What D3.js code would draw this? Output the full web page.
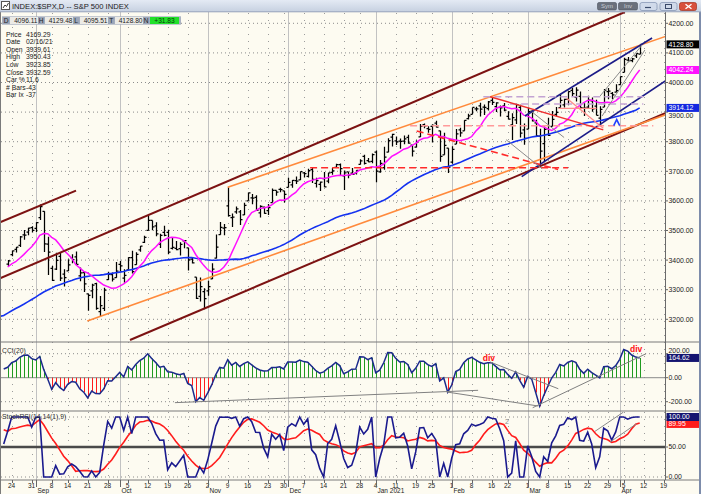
<!DOCTYPE html>
<html><head><meta charset="utf-8">
<script src="https://cdn.jsdelivr.net/npm/d3@7"></script>
<style>
html,body{margin:0;padding:0;background:#fdfbf1;}
svg{display:block;font-family:"Liberation Sans",Arial,sans-serif;}
</style></head>
<body><svg id="c" width="701" height="494"></svg>
<script>
// ---------------- DATA ----------------
// warm-up closes Jun 1 - Aug 19 2020 (for moving averages / RSI)
const priorClose = [3055.73,3080.82,3122.87,3112.35,3193.93,3232.39,3207.18,3190.14,3002.10,3041.31,3066.59,3124.74,3113.49,3115.34,3097.74,3117.86,3131.29,3050.33,3083.76,3009.05,3053.24,3100.29,
3115.86,3130.01,3179.72,3145.32,3169.94,3152.05,3185.04,3155.22,3197.52,3226.56,3215.57,3224.73,3251.84,3257.30,3276.02,3235.66,3215.63,3239.41,3218.44,3258.44,3246.22,3271.12,
3294.61,3306.51,3327.77,3349.16,3351.28,3360.47,3333.69,3380.35,3373.43,3372.85,3381.99,3389.78,3374.85];
// warm-up highs / lows Jul 24 - Aug 19 2020 (for CCI)
const priorHigh = [3227.26,3241.43,3243.72,3264.74,3250.92,3272.17,3302.73,3306.84,3330.77,3351.03,3352.54,3363.29,3381.01,3387.89,3387.24,3378.51,3387.59,3395.06,3399.54];
const priorLow  = [3200.05,3214.25,3216.17,3227.22,3204.13,3220.26,3284.53,3286.37,3317.37,3318.14,3328.72,3335.44,3326.44,3355.46,3363.35,3361.64,3379.22,3370.15,3369.66];

// daily OHLC Aug 20 2020 - Apr 9 2021
const openP = [3360.48,3386.01,3418.09,3435.95,3449.97,3485.14,3494.69,3509.73,
3507.44,3543.76,3564.74,3453.60,3371.88,3369.82,3412.56,3352.70,3363.56,3407.73,3411.23,3346.86,3357.38,3285.57,3295.75,3320.11,3226.14,3236.66,3333.90,3350.92,3341.21,
3385.87,3338.94,3367.27,3408.74,3384.56,3434.28,3459.67,3500.02,3534.01,3515.47,3453.72,3493.50,3493.66,3439.38,3439.91,3438.50,3464.90,3441.42,3403.15,3342.48,3277.17,3293.59,
3296.20,3336.25,3406.46,3485.74,3508.34,3583.04,3543.26,3563.22,3562.67,3552.57,3600.16,3610.31,3612.09,3559.41,3579.31,3566.82,3594.52,3635.50,3638.55,3634.18,
3645.87,3653.78,3668.28,3670.94,3694.73,3683.05,3705.98,3659.13,3656.08,3675.27,3666.41,3696.25,3713.65,3722.39,3684.28,3698.08,3693.42,3694.03,3723.03,3750.01,3736.19,3733.27,
3764.61,3698.02,3712.20,3764.71,3815.05,3803.14,3801.62,3802.23,3814.98,3788.73,3781.88,3816.22,3857.46,3844.24,3851.68,3862.96,3836.83,3755.75,3778.05,
3731.17,3791.84,3840.27,3836.66,3878.30,3892.59,3910.49,3920.78,3916.40,3911.65,3939.61,3918.50,3915.86,3921.16,3885.55,3857.07,3873.71,3915.80,3839.66,
3842.51,3903.64,3863.99,3818.53,3793.58,3844.39,3851.93,3891.99,3915.54,3924.52,3942.96,3973.59,3949.57,3953.50,3913.14,3916.48,3937.60,3919.93,3879.34,3917.12,3969.31,3963.34,3967.25,
3992.78,4034.44,4075.57,4074.29,4089.95,4096.11];
const highP = [3390.80,3399.96,3432.09,3444.21,3481.07,3501.38,3509.23,3514.77,
3528.03,3588.11,3564.85,3479.15,3379.97,3424.77,3425.55,3368.95,3402.93,3419.48,3428.92,3375.17,3362.27,3285.57,3320.31,3323.35,3278.70,3306.88,3360.74,3357.92,3393.56,
3397.18,3369.10,3409.57,3431.56,3426.26,3447.28,3482.34,3549.85,3534.01,3527.94,3489.08,3515.76,3502.42,3476.93,3464.86,3460.53,3466.46,3441.42,3409.51,3342.48,3341.05,3304.93,
3330.14,3389.49,3486.25,3529.05,3521.58,3645.99,3557.22,3581.16,3569.02,3593.66,3628.51,3623.11,3619.09,3585.22,3581.23,3589.81,3642.31,3635.50,3644.31,3634.18,
3678.45,3670.96,3682.73,3699.20,3697.41,3708.45,3712.39,3678.49,3665.91,3697.61,3695.29,3711.27,3725.12,3726.70,3702.90,3698.26,3711.24,3703.82,3740.51,3756.12,3744.63,3760.20,
3769.99,3737.83,3783.04,3811.55,3826.69,3817.86,3810.78,3820.96,3823.60,3788.73,3804.53,3859.75,3861.45,3852.31,3859.23,3870.90,3836.83,3830.50,3778.05,
3784.32,3843.09,3847.51,3872.42,3894.56,3915.77,3918.35,3931.50,3925.99,3937.23,3950.43,3933.61,3921.98,3930.41,3902.92,3895.98,3928.65,3925.02,3861.08,
3914.50,3906.41,3874.47,3843.67,3851.69,3881.06,3903.76,3917.35,3960.27,3944.99,3970.08,3981.04,3983.87,3969.62,3930.12,3955.31,3949.13,3942.08,3919.54,3978.19,3981.83,3968.01,3994.41,
4020.63,4083.42,4086.23,4083.13,4098.19,4129.48];
const lowP = [3354.69,3379.31,3413.13,3425.84,3444.15,3468.35,3484.32,3493.25,
3494.60,3535.23,3427.41,3349.63,3329.27,3366.84,3329.25,3310.47,3363.56,3389.25,3384.45,3328.82,3292.40,3229.10,3270.95,3232.57,3209.45,3228.44,3332.91,3327.54,3340.47,
3361.39,3323.69,3367.27,3354.54,3384.56,3428.15,3458.07,3499.61,3500.86,3480.55,3440.89,3480.45,3419.93,3435.65,3433.06,3415.34,3440.45,3364.86,3388.71,3268.89,3259.82,3233.94,
3279.74,3336.25,3405.17,3485.74,3484.34,3547.48,3511.91,3557.00,3518.58,3552.57,3600.16,3588.68,3567.33,3543.84,3556.85,3552.77,3594.52,3617.76,3629.33,3594.39,
3645.87,3644.84,3657.17,3670.94,3678.88,3678.83,3660.54,3645.18,3633.40,3645.84,3659.62,3688.57,3710.87,3685.84,3636.48,3676.16,3689.28,3689.32,3723.03,3723.31,3730.21,3726.88,
3662.71,3695.07,3705.34,3764.71,3783.60,3789.02,3776.51,3791.50,3792.86,3749.62,3780.37,3816.22,3845.05,3830.41,3797.16,3847.78,3732.48,3755.75,3694.12,
3725.62,3791.84,3816.68,3836.66,3874.93,3892.59,3902.64,3884.94,3890.39,3905.78,3923.85,3900.43,3885.03,3903.07,3874.71,3805.59,3859.60,3814.04,3789.54,
3842.51,3868.57,3818.86,3723.34,3730.19,3819.25,3851.93,3885.73,3915.54,3915.21,3923.54,3953.44,3935.74,3910.86,3886.75,3914.16,3901.57,3889.07,3853.50,3917.12,3943.25,3944.35,3966.98,
3992.78,4034.44,4068.14,4068.31,4082.54,4095.51];
const closeP = [3385.51,3397.16,3431.28,3443.62,3478.73,3484.55,3508.01,3500.31,
3526.65,3580.84,3455.06,3426.96,3331.84,3398.96,3339.19,3340.97,3383.54,3401.20,3385.49,3357.01,3319.47,3281.06,3315.57,3236.92,3246.59,3298.46,3351.60,3335.47,3363.00,
3380.80,3348.42,3408.60,3360.97,3419.44,3446.83,3477.14,3534.22,3511.93,3488.67,3483.34,3483.81,3426.92,3443.12,3435.56,3453.49,3465.39,3400.97,3390.68,3271.03,3310.11,3269.96,
3310.24,3369.16,3443.44,3510.45,3509.44,3550.50,3545.53,3572.66,3537.01,3585.15,3626.91,3609.53,3567.79,3581.87,3557.54,3577.59,3635.41,3629.65,3638.35,3621.63,
3662.45,3669.01,3666.72,3699.12,3691.96,3702.25,3672.82,3668.10,3663.46,3647.49,3694.62,3701.17,3722.48,3709.41,3694.92,3687.26,3690.01,3703.06,3735.36,3727.04,3732.04,3756.07,
3700.65,3726.86,3748.14,3803.79,3824.68,3799.61,3801.19,3809.84,3795.54,3768.25,3798.91,3851.85,3853.07,3841.47,3855.36,3849.62,3750.77,3787.38,3714.24,
3773.86,3826.31,3830.17,3871.74,3886.83,3915.59,3911.23,3909.88,3916.38,3934.83,3932.59,3931.33,3913.97,3906.71,3876.50,3881.37,3925.43,3829.34,3811.15,
3901.82,3870.29,3819.72,3768.47,3841.94,3821.35,3875.44,3898.81,3939.34,3943.34,3968.94,3962.71,3974.12,3915.46,3913.10,3940.59,3910.52,3889.14,3909.52,3974.54,3971.09,3958.55,3972.89,
4019.87,4077.91,4073.94,4079.95,4097.17,4128.80];

const holidays = ["2020-09-07","2020-11-26","2020-12-25","2021-01-01","2021-01-18","2021-02-15","2021-04-02"];
const weekTickDates = ["2020-08-24","2020-08-31","2020-09-08","2020-09-14","2020-09-21","2020-09-28","2020-10-05","2020-10-12","2020-10-19","2020-10-26","2020-11-02","2020-11-09","2020-11-16","2020-11-23","2020-11-30","2020-12-07","2020-12-14","2020-12-21","2020-12-28","2021-01-04","2021-01-11","2021-01-19","2021-01-25","2021-02-01","2021-02-08","2021-02-16","2021-02-22","2021-03-01","2021-03-08","2021-03-15","2021-03-22","2021-03-29","2021-04-05","2021-04-12","2021-04-19"];
const weekTickLabels = ["24","31","8","14","21","28","5","12","19","26","2","9","16","23","30","7","14","21","28","4","11","19","25","1","8","16","22","1","8","15","22","29","5","12","19"];
const monthTickDates = ["2020-09-01","2020-10-01","2020-11-02","2020-12-01","2021-01-04","2021-02-01","2021-03-01","2021-04-01"];
const monthTickLabels = ["Sep","Oct","Nov","Dec","Jan 2021","Feb","Mar","Apr"];
const priceTicks = [3200,3300,3400,3500,3600,3700,3800,3900,4000,4100,4200];
const cciTicks = [200,0,-200];
const stochTicks = [100,50,0];

const titleText = "INDEX:$SPX,D -- S&P 500 INDEX";
const quoteLetters = ["D","H","L","T","N"];
const quoteValues = ["4096.11","4129.48","4095.51","4128.80","+31.83"];
const infoLabels = ["Price","Date","Open","High","Low","Close","Car %","# Bars","Bar Ix"];
const infoValues = ["4169.29","02/16/21","3939.61","3950.43","3923.85","3932.59","11.6","-43","-37"];
const lastLabels = {close:["4128.80",4128.80], ma9:["4042.24",4042.24], ma50:["3914.12",3914.12], cci:["164.62",164.62], k:["100.00",100], d:["89.95",89.95]};

// annotation trend lines in data coordinates [barIndex1, value1, barIndex2, value2]
const maroonLines = [[-0.925,3527.7,18.075,3634.5],[-0.925,3338.5,155.3,4238.2],[31.575,3130.1,165.75,3898.6]];
const orangeLines = [[56,3646,165.75,4157.1],[20.9,3194.3,165.75,3892.6]];
const navyLines = [[130.3,3886.8,162.1,4150.3],[129.5,3681.8,165.75,4008.4]];
const redDashLines = [[76.6,3712,141.1,3712],[103.25,3836.1,138.6,3706.1]];
const pinkDashLines = [[101.6,3854,162.4,3854]];
const lavDashLines = [[119.9,3952,159.9,3952],[126.6,3927.4,159.9,3927.4]];
const redSolidLines = [[121.6,3952,149.9,3840]];
const salmonLines = [[140.75,3946.6,149.9,3845.3],[138.7,3912.8,148.2,3912.8]];
const greyPriceLines = [[125.6,3806.7,134.6,3708.7],[132.1,3900.3,140.1,3814.2],[149.1,3954.4,159.6,4126.7],[149.6,3886.8,160.3,4109.8]];
const cciLines = [[42.8,-208,118.6,-105],[110.75,-119,133.65,-236],[121.6,131,138.65,-92],[132.25,-250,160.6,200]];
const stochLines = [[147.8,76,154.9,108],[151.6,58.3,158.2,88.8]];
const divMarks = [[121.3,168],[158.1,239]];
const caretMark = [153.25,3864.5];
const stochNote = [125.3,93,"2"];

// ---------------- DERIVED ----------------
function tradingDays(start,end){
  const out=[]; const d=new Date(start+"T00:00:00Z"); const e=new Date(end+"T00:00:00Z");
  while(d<=e){const wd=d.getUTCDay(); const s=d.toISOString().slice(0,10);
    if(wd!==0&&wd!==6&&!holidays.includes(s)) out.push(s); d.setUTCDate(d.getUTCDate()+1);}
  return out;
}
const dates = tradingDays("2020-08-20","2021-04-19");
const N = closeP.length;
const allClose = priorClose.concat(closeP); const off = priorClose.length;
function sma(arr,end,n){let s=0;for(let k=end-n+1;k<=end;k++)s+=arr[k];return s/n;}
const ma9 = d3.range(1,N).map(i=>({i,v:sma(allClose,off+i,9)}));
const ma50 = d3.range(-1,N).map(i=>({i,v:sma(allClose,off+i,50)}));
// RSI(14) Wilder
const rsi = new Array(allClose.length).fill(null);
let ag=0,al=0;
for(let k=1;k<=14;k++){const ch=allClose[k]-allClose[k-1]; if(ch>0)ag+=ch; else al-=ch;}
ag/=14; al/=14; rsi[14]=100-100/(1+ag/al);
for(let k=15;k<allClose.length;k++){const ch=allClose[k]-allClose[k-1];
  ag=(ag*13+Math.max(ch,0))/14; al=(al*13+Math.max(-ch,0))/14; rsi[k]=al===0?100:100-100/(1+ag/al);}
const stK = new Array(allClose.length).fill(null);
for(let k=27;k<allClose.length;k++){const w=rsi.slice(k-13,k+1);const mn=d3.min(w),mx=d3.max(w);stK[k]=mx===mn?50:(rsi[k]-mn)/(mx-mn)*100;}
const kLine = d3.range(0,N).map(i=>({i,v:stK[off+i]}));
const dLine = d3.range(0,N).map(i=>({i,v:sma(stK,off+i,9)}));
// CCI(20)
const tpAll = priorHigh.map((h,j)=>(h+priorLow[j]+priorClose[off-19+j])/3).concat(highP.map((h,i)=>(h+lowP[i]+closeP[i])/3));
const toff = priorHigh.length;
const cci = d3.range(0,N).map(i=>{const w=tpAll.slice(toff+i-19,toff+i+1);const m=d3.mean(w);const md=d3.mean(w,t=>Math.abs(t-m));return {i,v:(tpAll[toff+i]-m)/(0.015*md)};});

// ---------------- SCALES ----------------
const X = d3.scaleLinear().domain([0,165]).range([3.7,663.7]);
const XP = i => Math.round(X(i)) + 0.5;   // pixel-snapped bar position
const Y = d3.scaleLinear().domain([3200,4200]).range([319.3,23.3]);
const YC = d3.scaleLinear().domain([-200,200]).range([401.7,353.7]);
const YS = d3.scaleLinear().domain([0,100]).range([477,417]);
const idx = d => dates.indexOf(d);
const AX = 665.5;

const svg = d3.select("#c");
const defs = svg.append("defs");
function clip(id,x,y,w,h){defs.append("clipPath").attr("id",id).append("rect").attr("x",x).attr("y",y).attr("width",w).attr("height",h);}
clip("cm",1,12,AX-1,330); clip("cc",1,342.5,AX-1,68.5); clip("cs",1,411.5,AX-1,68.5);
const gr = defs.append("linearGradient").attr("id","tb").attr("x1",0).attr("y1",0).attr("x2",0).attr("y2",1);
gr.append("stop").attr("offset","0%").attr("stop-color","#e4eaf4");
gr.append("stop").attr("offset","100%").attr("stop-color","#c6d0e0");

svg.append("rect").attr("width",701).attr("height",494).attr("fill","#fdfbf1");

// ---------------- GRID ----------------
const grid = svg.append("g");
const monthIdx = monthTickDates.map(idx);
weekTickDates.forEach(d=>{ if(monthTickDates.includes(d)) return; const x=XP(idx(d));
  grid.append("line").attr("x1",x).attr("x2",x).attr("y1",13).attr("y2",480).attr("stroke","#9c9c9c").attr("stroke-width",1).attr("stroke-dasharray","1,6");});
monthIdx.forEach(i=>{const x=XP(i); grid.append("line").attr("x1",x).attr("x2",x).attr("y1",12).attr("y2",480).attr("stroke","#c2c2c2").attr("stroke-width",1);});
priceTicks.forEach(p=>grid.append("line").attr("x1",1).attr("x2",AX).attr("y1",Y(p)).attr("y2",Y(p)).attr("stroke","#8c8c8c").attr("stroke-dasharray","1,3"));
[200,-200].forEach(v=>grid.append("line").attr("x1",1).attr("x2",AX).attr("y1",YC(v)).attr("y2",YC(v)).attr("stroke","#8c8c8c").attr("stroke-dasharray","1,3"));
grid.append("line").attr("x1",1).attr("x2",AX).attr("y1",YC(0)).attr("y2",YC(0)).attr("stroke","#8a8a8a").attr("stroke-width",1);
[100,0].forEach(v=>grid.append("line").attr("x1",1).attr("x2",AX).attr("y1",YS(v)).attr("y2",YS(v)).attr("stroke","#8c8c8c").attr("stroke-dasharray","1,3"));
grid.append("line").attr("x1",1).attr("x2",AX).attr("y1",YS(50)).attr("y2",YS(50)).attr("stroke","#4a4a4a").attr("stroke-width",2.4);

// ---------------- MAIN PANEL ----------------
const gm = svg.append("g").attr("clip-path","url(#cm)");
const seg = (g,arr,xs,ys,col,w,dash)=>arr.forEach(a=>g.append("line").attr("x1",xs(a[0])).attr("y1",ys(a[1])).attr("x2",xs(a[2])).attr("y2",ys(a[3])).attr("stroke",col).attr("stroke-width",w).attr("stroke-dasharray",dash||null));

const barsG = gm.append("g").attr("stroke","#000").attr("stroke-width",1.25).attr("fill","none");
d3.range(1,N).forEach(i=>{const x=XP(i);
  barsG.append("path").attr("d",`M${x},${Y(highP[i])}V${Y(lowP[i])}M${x-2},${Y(openP[i])}H${x}M${x},${Y(closeP[i])}H${x+2}`);});

const line = (ys)=>d3.line().x(d=>X(d.i)).y(d=>ys(d.v));
gm.append("path").datum(ma50).attr("d",line(Y)).attr("fill","none").attr("stroke","#1432f0").attr("stroke-width",1.6);
gm.append("path").datum(ma9).attr("d",line(Y)).attr("fill","none").attr("stroke","#ff10ff").attr("stroke-width",1.5);

seg(gm,maroonLines,X,Y,"#7c1212",2);
seg(gm,orangeLines,X,Y,"#ff8a3c",1.6);
seg(gm,navyLines,X,Y,"#1c1c88",1.6);
seg(gm,pinkDashLines,X,Y,"#ff9a9a",1.6,"7,4");
seg(gm,lavDashLines,X,Y,"#c3a3d3",1.6,"7,4");
seg(gm,redDashLines,X,Y,"#ff2a2a",1.6,"7,4");
seg(gm,redSolidLines,X,Y,"#f03030",1.5);
seg(gm,salmonLines,X,Y,"#ff8a8a",1.3);
seg(gm,greyPriceLines,X,Y,"#8a8a8a",1);
gm.append("path").attr("d",`M${X(caretMark[0])-3},${Y(caretMark[1])+3}L${X(caretMark[0])},${Y(caretMark[1])-3}L${X(caretMark[0])+3},${Y(caretMark[1])+3}`)
  .attr("fill","none").attr("stroke","#2040ff").attr("stroke-width",1.6);

// info text
const info = svg.append("g").attr("font-size",6.8).attr("fill","#1a1a1a");
infoLabels.forEach((t,k)=>{const y=34.3+7.6*k;
  info.append("text").attr("x",6).attr("y",y).attr("dy","0.35em").text(t);
  info.append("text").attr("x",26).attr("y",y).attr("dy","0.35em").text(infoValues[k]);});

// ---------------- CCI PANEL ----------------
const gc = svg.append("g").attr("clip-path","url(#cc)");
cci.forEach(d=>{ if(d.i<1) return; gc.append("line").attr("x1",XP(d.i)).attr("x2",XP(d.i)).attr("y1",YC(0)).attr("y2",YC(d.v))
  .attr("stroke",d.v>=0?"#1f9a1f":"#ff1c1c").attr("stroke-width",1);});
gc.append("path").datum(cci).attr("d",line(YC)).attr("fill","none").attr("stroke","#1c2a8c").attr("stroke-width",1.5);
seg(gc,cciLines,X,YC,"#808080",1);
divMarks.forEach(m=>gc.append("text").attr("x",X(m[0])).attr("y",YC(m[1])).attr("dy","0.35em").attr("text-anchor","middle")
  .attr("font-size",8.5).attr("font-weight","bold").attr("fill","#ff1010").text("div"));
svg.append("text").attr("x",2).attr("y",350.5).attr("dy","0.35em").attr("font-size",6.8).attr("fill","#333").text("CCI(20)");

// ---------------- STOCH PANEL ----------------
const gs = svg.append("g").attr("clip-path","url(#cs)");
gs.append("path").datum(dLine).attr("d",line(YS)).attr("fill","none").attr("stroke","#ff1c1c").attr("stroke-width",1.6);
gs.append("path").datum(kLine).attr("d",line(YS)).attr("fill","none").attr("stroke","#1a1a8e").attr("stroke-width",1.6);
seg(gs,stochLines,X,YS,"#8a8a8a",1);
gs.append("text").attr("x",X(stochNote[0])).attr("y",YS(stochNote[1])).attr("dy","0.35em").attr("font-size",7).attr("fill","#888").text(stochNote[2]);
svg.append("text").attr("x",2).attr("y",416.3).attr("dy","0.35em").attr("font-size",6.8).attr("fill","#333").text("StochRSI(14,14(1),9)");

// ---------------- FRAME / AXES ----------------
const fr = svg.append("g");
fr.append("line").attr("x1",0).attr("x2",701).attr("y1",342).attr("y2",342).attr("stroke","#7a7a7a").attr("stroke-width",1.2);
fr.append("line").attr("x1",0).attr("x2",701).attr("y1",411).attr("y2",411).attr("stroke","#7a7a7a").attr("stroke-width",1.2);
fr.append("line").attr("x1",0).attr("x2",701).attr("y1",480).attr("y2",480).attr("stroke","#7a7a7a").attr("stroke-width",1);
fr.append("line").attr("x1",AX).attr("x2",AX).attr("y1",12).attr("y2",480).attr("stroke","#6a6a6a").attr("stroke-width",1);
fr.append("line").attr("x1",0.5).attr("x2",0.5).attr("y1",12).attr("y2",494).attr("stroke","#7a7a7a");
fr.append("line").attr("x1",700).attr("x2",700).attr("y1",12).attr("y2",494).attr("stroke","#7d8cab").attr("stroke-width",2);

const ax = svg.append("g").attr("font-size",6.9).attr("fill","#222");
// value boxes first so that axis labels they would cover can be nudged clear of them
const boxes = [];
const box=(ys,v,t,bg)=>{const y=ys(v); boxes.push({top:y-4,bot:y+4,t,bg});};
box(Y,lastLabels.close[1],lastLabels.close[0],"#000000");
box(Y,lastLabels.ma9[1],lastLabels.ma9[0],"#ff10ff");
box(Y,lastLabels.ma50[1],lastLabels.ma50[0],"#1428e0");
box(YC,lastLabels.cci[1],lastLabels.cci[0],"#141470");
box(YS,lastLabels.d[1]-1.5,lastLabels.d[0],"#ff1c1c");
box(YS,lastLabels.k[1],lastLabels.k[0],"#141470");
const yLab=(ys,v,t)=>{let y=ys(v);
  ax.append("line").attr("x1",AX).attr("x2",AX+2.5).attr("y1",y).attr("y2",y).attr("stroke","#666");
  const hit = boxes.find(b=>y+3>b.top && y-3<b.bot);
  if(hit){ if(hit.t===t) return; y = (y < (hit.top+hit.bot)/2) ? hit.top-3.3 : hit.bot+3.3; }
  ax.append("text").attr("x",AX+3).attr("y",y).attr("dy","0.35em").text(t);};
priceTicks.forEach(p=>yLab(Y,p,p.toFixed(2)));
cciTicks.forEach(v=>yLab(YC,v,v.toFixed(2)));
stochTicks.forEach(v=>yLab(YS,v,v.toFixed(2)));
boxes.forEach(b=>{const y=(b.top+b.bot)/2;
  ax.append("rect").attr("x",AX+1).attr("y",b.top).attr("width",32.5).attr("height",8).attr("fill",b.bg);
  ax.append("text").attr("x",AX+3).attr("y",y).attr("dy","0.35em").attr("fill","#fff").text(b.t);});

// x axis
const xa = svg.append("g").attr("fill","#222");
weekTickDates.forEach((d,k)=>{const x=XP(idx(d));
  xa.append("line").attr("x1",x).attr("x2",x).attr("y1",480).attr("y2",483).attr("stroke","#666");
  xa.append("text").attr("x",x-1).attr("y",487.5).attr("text-anchor","middle").attr("font-size",6.5).text(weekTickLabels[k]);});
monthTickDates.forEach((d,k)=>{const x=XP(idx(d));
  xa.append("line").attr("x1",x).attr("x2",x).attr("y1",480).attr("y2",487).attr("stroke","#666");
  xa.append("text").attr("x",x+1).attr("y",493).attr("font-size",6.5).text(monthTickLabels[k]);});

// ---------------- TITLE BAR ----------------
const tb = svg.append("g");
tb.append("rect").attr("x",0).attr("y",0).attr("width",701).attr("height",12).attr("fill","url(#tb)");
tb.append("line").attr("x1",0).attr("x2",701).attr("y1",11.8).attr("y2",11.8).attr("stroke","#9aa6bc");
tb.append("rect").attr("x",1.5).attr("y",1.5).attr("width",8).attr("height",8).attr("fill","#fff").attr("stroke","#555");
tb.append("path").attr("d","M3,8L5,5L6.5,6.5L8.5,3").attr("stroke","#333").attr("fill","none").attr("stroke-width",1);
tb.append("text").attr("x",12).attr("y",6.2).attr("dy","0.35em").attr("font-size",7.6).attr("fill","#1a1a1a").text(titleText);
[[597.5,"Sym"],[618.5,"Inv"]].forEach(b=>{tb.append("rect").attr("x",b[0]).attr("y",2.5).attr("width",19).attr("height",7.5).attr("rx",1.5).attr("fill","#6a707c").attr("stroke","#4a505c").attr("stroke-width",0.6);
  tb.append("text").attr("x",b[0]+9.5).attr("y",6.3).attr("dy","0.35em").attr("text-anchor","middle").attr("font-size",6).attr("fill","#c8ccd4").text(b[1]);});
[[640,"#d0daea"],[660,"#d0daea"],[679.5,"#d8503c"]].forEach((b,k)=>{tb.append("rect").attr("x",b[0]).attr("y",2.5).attr("width",17).attr("height",8).attr("rx",2).attr("fill",b[1]).attr("stroke",k===2?"#a03020":"#8090b0").attr("stroke-width",0.7);});
tb.append("line").attr("x1",645).attr("x2",651).attr("y1",7.5).attr("y2",7.5).attr("stroke","#3a4a6a").attr("stroke-width",1.2);
tb.append("rect").attr("x",665.5).attr("y",4.5).attr("width",6).attr("height",4).attr("fill","none").attr("stroke","#3a4a6a").attr("stroke-width",1);
tb.append("path").attr("d","M685.5,4.2L691.5,8.8M691.5,4.2L685.5,8.8").attr("stroke","#fff").attr("stroke-width",1.4);

// quote bar
const qb = svg.append("g").attr("font-size",6.6);
qb.append("rect").attr("x",2).attr("y",16.3).attr("width",179).attr("height",8.4).attr("fill","#aab2c2");
quoteLetters.forEach((l,k)=>{const x0=3+k*35;
  qb.append("rect").attr("x",x0).attr("y",17).attr("width",6.5).attr("height",7).attr("fill","#9ca6b8");
  qb.append("text").attr("x",x0+3.2).attr("y",20.6).attr("dy","0.35em").attr("text-anchor","middle").attr("fill","#222").text(l);
  const last = k===quoteLetters.length-1;
  qb.append("rect").attr("x",x0+7).attr("y",17).attr("width",last?29:28).attr("height",7).attr("fill",last?"#22e02a":"#ecebe6");
  qb.append("text").attr("x",last?x0+21.5:x0+34.5).attr("y",20.6).attr("dy","0.35em").attr("text-anchor",last?"middle":"end").attr("fill",last?"#0a3a0a":"#1a1a1a").text(quoteValues[k]);});
</script></body></html>
